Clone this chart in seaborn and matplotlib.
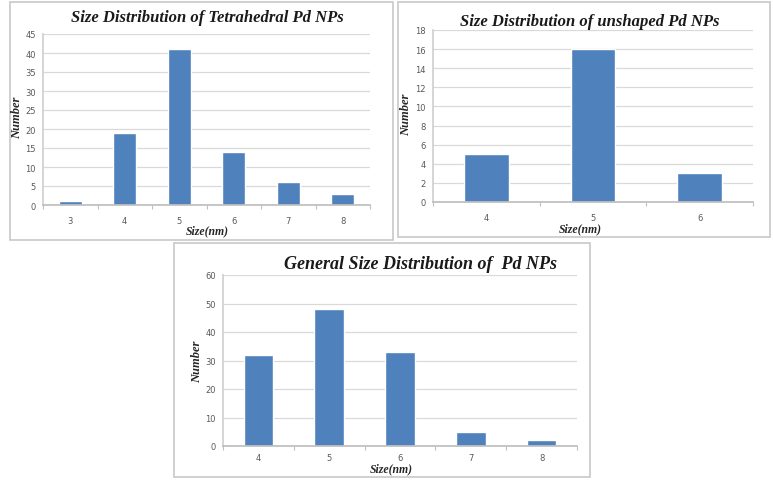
import matplotlib
matplotlib.use("Agg")
import matplotlib.pyplot as plt
from matplotlib.patches import Rectangle
from matplotlib.ticker import FixedLocator
import seaborn as sns
import pandas as pd

# ---- data ----
tetra_sizes = ["3", "4", "5", "6", "7", "8"]
tetra_counts = [1, 19, 41, 14, 6, 3]

unshaped_sizes = ["4", "5", "6"]
unshaped_counts = [5, 16, 3]

general_sizes = ["4", "5", "6", "7", "8"]
general_counts = [32, 48, 33, 5, 2]

titles = ["Size Distribution of Tetrahedral Pd NPs",
          "Size Distribution of unshaped Pd NPs",
          "General Size Distribution of  Pd NPs"]
xlabel = "Size(nm)"
ylabel = "Number"

sns.set_theme(style="white")
W, H = 773, 481
fig = plt.figure(figsize=(W / 100, H / 100), dpi=100)
fig.patch.set_facecolor("white")

BAR = "#4F81BD"
SERIF = ["Liberation Serif", "DejaVu Serif"]


def frame(x0, y0, x1, y1):
    fig.add_artist(Rectangle((x0 / W, 1 - y1 / H), (x1 - x0) / W, (y1 - y0) / H,
                             transform=fig.transFigure, fill=False,
                             edgecolor="#C8C8C8", linewidth=1.2))


def panel(box, sizes, counts, ymax, ystep, title, tsize, tpos, ylpos, xlpos, xpad):
    x0, ytop, x1, ybot = box
    ax = fig.add_axes([x0 / W, 1 - ybot / H, (x1 - x0) / W, (ybot - ytop) / H])
    df = pd.DataFrame({"size": sizes, "count": counts})
    sns.barplot(data=df, x="size", y="count", order=sizes, color=BAR,
                saturation=1, width=0.42, ax=ax)
    ax.set_ylim(0, ymax)
    ax.set_xlim(-0.5, len(sizes) - 0.5)
    ax.set_yticks(range(0, ymax + 1, ystep))
    ax.xaxis.set_minor_locator(FixedLocator([i + 0.5 for i in range(-1, len(sizes))]))
    ax.yaxis.grid(True, color="#D9D9D9", linewidth=0.9)
    ax.set_axisbelow(True)
    for s in ["top", "right"]:
        ax.spines[s].set_visible(False)
    ax.spines["left"].set_color("#D0D0D0")
    ax.spines["bottom"].set_color("#BFBFBF")
    ax.tick_params(axis="both", which="major", labelsize=6,
                   labelcolor="#595959", length=0, pad=5)
    ax.tick_params(axis="x", which="major", pad=xpad)
    ax.tick_params(axis="x", which="minor", length=3, color="#BFBFBF",
                   width=0.8, direction="out", bottom=True)
    ax.set_xlabel("")
    ax.set_ylabel("")
    fig.text(tpos[0] / W, 1 - tpos[1] / H, title, ha="center", va="center",
             fontsize=tsize, fontweight="bold", style="italic", family=SERIF,
             color="#1A1A1A")
    fig.text(ylpos[0] / W, 1 - ylpos[1] / H, ylabel, ha="center", va="center",
             rotation=90, fontsize=9, fontweight="bold", style="italic",
             family=SERIF, color="#262626")
    fig.text(xlpos[0] / W, 1 - xlpos[1] / H, xlabel, ha="center", va="center",
             fontsize=8.5, fontweight="bold", style="italic", family=SERIF,
             color="#262626")
    return ax


frame(10, 3, 393, 241)
frame(398, 3, 770, 238)
frame(174, 244, 590, 478)

panel((43, 35, 370, 206), tetra_sizes, tetra_counts, 45, 5, titles[0], 12,
      (207, 18), (17, 118), (207, 231), 8)
panel((433, 31, 753, 203), unshaped_sizes, unshaped_counts, 18, 2, titles[1], 12,
      (590, 22), (406, 115), (580, 229), 8)
panel((223, 276, 577, 447), general_sizes, general_counts, 60, 10, titles[2], 13,
      (420, 265), (197, 362), (391, 469), 5)

fig.savefig("out.png", dpi=100, facecolor="white")
